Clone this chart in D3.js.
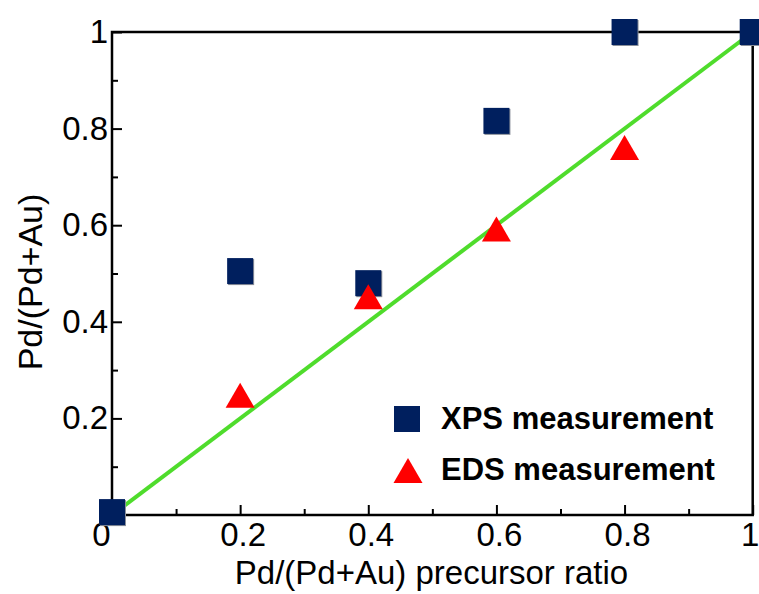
<!DOCTYPE html>
<html>
<head>
<meta charset="utf-8">
<script src="https://cdn.jsdelivr.net/npm/d3@7"></script>
<style>
  html, body { margin: 0; padding: 0; background: #fff; }
  svg { display: block; font-family: "Liberation Sans", Arial, sans-serif; }
</style>
</head>
<body>
<svg id="chart" width="759" height="594"></svg>
<script>
// ---- data ----
const precursorRatio = [0, 0.2, 0.4, 0.6, 0.8, 1.0];
const xpsValues = [0.006, 0.505, 0.48, 0.816, 1.0, 1.0];
const edsX = [0.2, 0.4, 0.6, 0.8];
const edsValues = [0.248, 0.452, 0.592, 0.761];
const refLineX = [0, 1];
const refLineY = [0, 1];
const majorTicks = [0, 0.2, 0.4, 0.6, 0.8, 1];
const minorTicks = [0.1, 0.3, 0.5, 0.7, 0.9];
const yMajorTicks = [0.2, 0.4, 0.6, 0.8, 1];
const legendLabels = ["XPS measurement", "EDS measurement"];

// ---- layout ----
const svg = d3.select("#chart");
const L = 112, R = 752.7, T = 32, B = 515;
const x = d3.scaleLinear().domain([0, 1]).range([L, R]);
const y = d3.scaleLinear().domain([0, 1]).range([B, T]);

const fmt = d => d === 0 ? "0" : (d === 1 ? "1" : d3.format(".1f")(d));

// minor ticks
svg.append("g").attr("transform", `translate(0,${B})`)
  .call(d3.axisBottom(x).tickValues(minorTicks).tickSize(-6).tickFormat(""))
  .call(g => g.select(".domain").remove())
  .call(g => g.selectAll("line").attr("stroke", "#000").attr("stroke-width", 2));
svg.append("g").attr("transform", `translate(${L},0)`)
  .call(d3.axisLeft(y).tickValues(minorTicks).tickSize(-6).tickFormat(""))
  .call(g => g.select(".domain").remove())
  .call(g => g.selectAll("line").attr("stroke", "#000").attr("stroke-width", 2));

// major x
const gx = svg.append("g").attr("transform", `translate(0,${B})`)
  .call(d3.axisBottom(x).tickValues(majorTicks).tickSize(-10).tickPadding(8).tickFormat(fmt))
  .call(g => g.select(".domain").remove());
gx.selectAll("line").attr("stroke", "#000").attr("stroke-width", 2);
gx.selectAll("text").attr("font-size", 33).attr("fill", "#000")
  .attr("font-family", "'Liberation Sans', Arial, sans-serif")
  .attr("x", d => d === 0 ? -11 : (d === 1 ? -3 : 2.5));

// major y
const gy = svg.append("g").attr("transform", `translate(${L},0)`)
  .call(d3.axisLeft(y).tickValues(yMajorTicks).tickSize(-10).tickPadding(4).tickFormat(fmt))
  .call(g => g.select(".domain").remove());
gy.selectAll("line").attr("stroke", "#000").attr("stroke-width", 2);
gy.selectAll("text").attr("font-size", 33).attr("fill", "#000")
  .attr("font-family", "'Liberation Sans', Arial, sans-serif");

// frame
svg.append("rect").attr("x", L).attr("y", T).attr("width", R - L).attr("height", B - T)
  .attr("fill", "none").attr("stroke", "#000").attr("stroke-width", 2.5);

// axis titles
svg.append("text").attr("x", 431.5).attr("y", 584).attr("text-anchor", "middle")
  .attr("font-size", 33).text("Pd/(Pd+Au) precursor ratio");
svg.append("text").attr("transform", "translate(42,282) rotate(-90)").attr("text-anchor", "middle")
  .attr("font-size", 34).text("Pd/(Pd+Au)");

// reference line
const lineData = refLineX.map((v, i) => [v, refLineY[i]]);
svg.append("path").datum(lineData)
  .attr("d", d3.line().x(d => x(d[0])).y(d => y(d[1])))
  .attr("stroke", "#4fdc2c").attr("stroke-width", 4).attr("fill", "none");

// markers
const S = 26;
const triW = 29, triH = 25;
const triPath = (cx, cy) => `M${cx},${cy - triH / 2}L${cx + triW / 2},${cy + triH / 2}L${cx - triW / 2},${cy + triH / 2}Z`;

// squares (with faint shadow)
const xpsData = precursorRatio.map((v, i) => [v, xpsValues[i]]);
svg.append("g").selectAll("rect.sh").data(xpsData).join("rect")
  .attr("x", d => x(d[0]) - S / 2 + 1).attr("y", d => y(d[1]) - S / 2 + 1)
  .attr("width", S).attr("height", S).attr("fill", "#8a8f99");
svg.append("g").selectAll("rect.m").data(xpsData).join("rect")
  .attr("x", d => x(d[0]) - S / 2).attr("y", d => y(d[1]) - S / 2)
  .attr("width", S).attr("height", S).attr("fill", "#001f5e");

const edsData = edsX.map((v, i) => [v, edsValues[i]]);
svg.append("g").selectAll("path").data(edsData).join("path")
  .attr("d", d => triPath(x(d[0]), y(d[1])))
  .attr("fill", "#ff0000");

// legend
svg.append("rect").attr("x", 407 - S / 2).attr("y", 419 - S / 2).attr("width", S).attr("height", S)
  .attr("fill", "#001f5e");
svg.append("path").attr("d", triPath(408, 470.5)).attr("fill", "#ff0000");
svg.selectAll("text.leg").data(legendLabels).join("text")
  .attr("class", "leg")
  .attr("x", 441).attr("y", (d, i) => 429 + i * 51)
  .attr("font-size", 31).attr("font-weight", "bold").text(d => d);
</script>
</body>
</html>
